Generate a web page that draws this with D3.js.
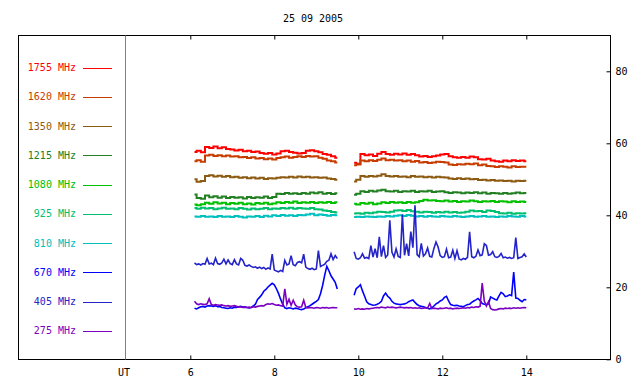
<!DOCTYPE html>
<html><head><meta charset="utf-8">
<script src="https://cdn.jsdelivr.net/npm/d3@7"></script>
<style>
html,body{margin:0;padding:0;background:#fff;}
svg{display:block;}
text{font-family:"DejaVu Sans Mono",monospace;font-size:10px;}
</style></head><body>
<svg id="chart" width="640" height="384"></svg>
<script>
// ---------- DATA ----------
const title = "25 09 2005";
const xLabel = "UT";
const freqLabels = ["1755 MHz","1620 MHz","1350 MHz","1215 MHz","1080 MHz","925 MHz","810 MHz","670 MHz","405 MHz","275 MHz"];
const xTicks = [6,8,10,12,14];
const yTicks = [0,20,40,60,80];

// time grids (UT hours)
const timesA = [6.1,6.2,6.3,6.4,6.5,6.6,6.7,6.8,6.9,7.0,7.1,7.2,7.3,7.4,7.5,7.6,7.7,7.8,7.9,8.0,8.1,8.2,8.3,8.4,8.5,8.6,8.7,8.8,8.9,9.0,9.1,9.2,9.3,9.4,9.5];
const timesB = [9.9,10.0,10.1,10.2,10.3,10.4,10.5,10.6,10.7,10.8,10.9,11.0,11.1,11.2,11.3,11.4,11.5,11.6,11.7,11.8,11.9,12.0,12.1,12.2,12.3,12.4,12.5,12.6,12.7,12.8,12.9,13.0,13.1,13.2,13.3,13.4,13.5,13.6,13.7,13.8,13.9,14.0];
const timesFineA = [6.1,6.15,6.2,6.25,6.3,6.35,6.4,6.45,6.5,6.55,6.6,6.65,6.7,6.75,6.8,6.85,6.9,6.95,7,7.05,7.1,7.15,7.2,7.25,7.3,7.35,7.4,7.45,7.5,7.55,7.6,7.65,7.7,7.75,7.8,7.85,7.9,7.95,8,8.05,8.1,8.15,8.2,8.25,8.3,8.35,8.4,8.45,8.5,8.55,8.6,8.65,8.7,8.75,8.8,8.85,8.9,8.95,9,9.05,9.1,9.15,9.2,9.25,9.3,9.35,9.4,9.45,9.5];
const timesFineB = [9.9,9.95,10,10.05,10.1,10.15,10.2,10.25,10.3,10.35,10.4,10.45,10.5,10.55,10.6,10.65,10.7,10.75,10.8,10.85,10.9,10.95,11,11.05,11.1,11.15,11.2,11.25,11.3,11.35,11.4,11.45,11.5,11.55,11.6,11.65,11.7,11.75,11.8,11.85,11.9,11.95,12,12.05,12.1,12.15,12.2,12.25,12.3,12.35,12.4,12.45,12.5,12.55,12.6,12.65,12.7,12.75,12.8,12.85,12.9,12.95,13,13.05,13.1,13.15,13.2,13.25,13.3,13.35,13.4,13.45,13.5,13.55,13.6,13.65,13.7,13.75,13.8,13.85,13.9,13.95,14];

// flux values per frequency, two observing segments each
const f1755A = [57.6,57.9,57.5,59.0,58.7,59.1,58.6,58.9,58.4,58.3,58.0,58.2,57.8,57.9,57.6,57.7,57.3,57.1,57.3,56.9,57.2,57.8,57.9,57.6,57.4,57.2,57.3,57.9,58.1,57.8,57.5,57.0,56.8,56.4,56.0];
const f1755B = [54.6,54.3,57.0,56.7,56.9,56.5,57.1,57.6,57.0,56.8,57.1,56.9,57.2,56.8,57.0,56.7,56.3,56.5,56.2,56.4,56.6,56.9,57.0,56.4,56.1,56.0,56.2,56.0,56.3,56.1,55.6,55.5,55.7,55.2,55.0,54.9,55.2,55.0,55.3,55.1,55.2,55.0];
const f1620A = [55.0,55.3,54.9,56.6,56.8,56.5,56.7,56.4,56.6,56.3,56.4,56.1,56.2,55.9,56.1,55.8,55.9,55.6,55.8,55.5,55.9,56.1,56.3,56.0,56.2,56.4,56.2,56.5,56.3,56.4,56.0,55.7,55.2,55.0,54.7];
const f1620B = [53.9,54.1,55.2,55.0,55.3,55.1,55.4,55.8,55.3,55.4,55.2,55.3,55.0,55.2,54.9,55.1,54.7,54.8,54.5,54.7,54.9,54.8,54.7,54.1,54.0,54.2,54.1,54.3,54.2,54.4,53.9,54.1,53.7,53.6,53.4,53.6,53.5,53.3,53.6,53.4,53.5,53.5];
const f1350A = [50.0,49.3,49.5,50.9,51.1,50.8,51.0,50.7,50.9,50.6,50.7,50.4,50.6,50.3,50.5,50.2,50.4,50.1,50.3,50.2,50.4,50.6,50.5,50.7,50.5,50.8,50.6,50.7,50.5,50.6,50.4,50.5,50.2,50.1,49.9];
const f1350B = [49.4,49.9,50.9,50.7,50.9,50.8,51.0,51.4,50.9,50.8,50.9,50.7,50.8,50.6,50.9,50.7,50.8,50.6,50.7,50.5,50.7,50.6,50.5,50.2,50.1,50.3,50.1,50.2,50.0,50.1,49.8,49.9,49.7,49.8,49.6,49.7,49.5,49.6,49.4,49.6,49.5,49.6];
const f1215A = [45.8,44.8,44.6,45.5,45.0,45.3,44.9,45.2,44.8,45.1,44.9,45.0,44.7,45.1,44.8,45.0,44.9,45.2,44.8,45.1,46.0,45.9,46.2,46.0,46.1,45.9,46.2,46.0,46.3,46.1,46.4,46.0,46.2,45.9,46.1];
const f1215B = [45.7,46.0,46.7,46.5,46.8,46.6,46.9,47.1,46.7,46.6,46.8,46.5,46.7,46.6,46.8,46.5,46.7,46.6,46.8,46.5,46.6,46.7,46.4,46.2,46.4,46.3,46.1,46.3,46.2,46.4,46.1,46.3,46.0,46.2,46.1,46.0,46.2,46.0,46.1,46.3,46.1,46.2];
const f1080A = [43.0,42.8,43.1,43.5,43.2,43.6,43.3,43.5,43.1,43.4,43.2,43.5,43.1,43.3,43.0,43.4,43.2,43.5,43.1,43.3,43.6,43.4,43.7,43.5,43.8,43.4,43.6,43.5,43.7,43.4,43.6,43.5,43.7,43.4,43.6];
const f1080B = [43.2,43.0,43.4,43.2,43.5,43.1,43.3,43.6,43.4,43.7,43.5,43.6,43.4,43.7,43.5,43.6,44.0,44.3,44.1,44.2,44.0,43.9,44.1,43.8,44.0,43.7,43.9,43.8,44.1,43.9,43.7,43.9,43.8,44.0,43.7,43.9,43.8,43.6,43.9,43.7,43.8,43.7];
const f925A = [42.0,41.8,42.1,41.9,42.0,41.7,41.9,42.1,41.8,41.9,41.7,42.0,41.8,41.6,41.9,41.7,41.8,42.0,41.7,41.9,41.8,42.0,41.9,42.1,41.8,42.0,41.9,41.8,42.0,41.7,41.6,41.3,41.2,40.9,40.8];
const f925B = [40.5,40.6,40.4,40.7,40.6,40.8,41.0,40.9,40.8,41.0,41.3,41.4,41.2,41.5,41.1,41.0,40.8,41.0,40.9,40.7,40.9,40.8,41.0,40.8,40.9,40.7,40.8,41.0,41.3,41.1,41.2,40.9,41.3,41.2,40.9,40.6,40.5,40.7,40.4,40.6,40.5,40.6];
const f810A = [39.7,39.6,39.8,39.6,39.7,39.5,39.8,39.6,39.7,39.5,39.8,39.6,39.4,39.7,39.6,39.8,39.5,39.9,39.7,40.0,39.8,40.1,39.9,40.0,39.8,40.1,40.0,40.2,40.4,40.0,40.2,40.1,39.9,40.1,40.0];
const f810B = [39.5,39.6,39.5,39.7,39.6,39.5,39.7,39.6,39.8,39.7,39.9,40.0,39.8,40.1,39.9,39.7,39.8,39.6,39.8,39.7,39.6,39.8,39.7,39.6,39.8,39.7,39.5,39.7,39.8,39.6,39.7,39.8,39.6,39.7,39.5,39.7,39.6,39.8,39.7,39.6,39.8,39.7];
const f670A = [14.2,14.0,14.3,14.6,14.7,14.5,14.8,14.9,14.8,14.7,14.9,14.6,14.7,14.4,14.3,14.2,14.1,14.3,14.2,14.5,14.4,14.6,14.7,14.5,14.6,14.4,14.3,14.4,14.8,15.3,16.6,17.2,17.9,18.9,19.4,20.1,20.6,21.1,20.7,19.6,18.3,16.7,15.3,14.3,14.1,14.3,14.2,14.0,14.2,14.1,13.9,13.8,14.0,14.3,14.6,14.9,15.3,15.7,16.1,16.6,18.2,20.5,23.4,25.8,24.6,23.2,22.3,21.4,19.5];
const f670B = [17.8,19.6,20.1,20.7,19.0,17.5,16.0,15.4,15.2,15.0,15.1,15.3,15.6,16.1,17.6,18.4,17.5,17.0,16.1,15.6,15.4,15.3,15.2,15.3,15.4,15.6,16.0,16.3,16.5,15.8,15.2,14.9,14.7,14.6,14.4,14.2,14.0,14.3,14.8,15.4,15.7,16.2,16.5,17.2,17.5,16.2,15.2,15.0,14.9,15.0,14.8,14.7,14.6,14.9,15.2,15.3,15.8,16.2,16.5,16.9,16.3,15.5,15.3,15.2,15.4,17.3,17.0,16.7,16.5,17.6,18.6,18.2,17.4,17.6,17.9,17.7,24.2,17.0,16.9,16.4,16.0,16.6,16.5];
const f405A = [26.8,26.3,26.5,26.2,26.6,26.4,28.0,26.5,26.7,26.3,28.1,26.6,26.4,26.8,27.8,26.5,27.6,26.6,26.3,27.7,26.5,26.2,28.0,27.5,26.1,25.9,26.2,25.8,25.5,25.7,25.3,25.6,25.2,25.5,25.0,25.4,25.1,29.2,24.8,24.5,24.3,24.7,24.4,27.5,26.2,26.5,28.8,26.3,26.0,26.9,27.1,26.8,29.2,25.6,25.2,25.0,25.3,24.9,25.1,30.2,25.8,26.1,26.4,27.2,27.5,29.3,27.7,28.8,28.0];
const f405B = [29.9,28.0,27.8,28.2,29.3,28.1,28.3,28.0,31.6,28.4,30.7,28.2,34.0,28.5,31.6,28.3,29.0,38.6,29.8,28.4,30.7,28.6,28.3,40.2,28.9,32.1,28.7,35.5,31.0,42.8,29.1,28.5,32.2,28.7,29.3,30.9,28.6,28.4,30.8,32.6,31.2,28.8,28.3,28.5,30.6,28.2,28.4,30.3,28.0,30.2,27.9,27.6,28.0,27.8,28.3,35.4,28.5,28.2,28.6,30.4,28.8,29.0,32.1,31.6,28.9,29.1,29.9,28.5,28.3,28.6,29.4,28.2,28.4,28.1,28.3,28.0,28.2,33.8,28.0,28.3,28.5,29.3,28.4];
const f275A = [16.1,15.4,15.2,15.4,15.3,15.2,15.4,16.8,15.2,15.0,15.2,15.1,15.0,15.1,14.9,14.8,14.9,14.7,14.8,14.9,14.7,14.5,14.6,14.4,14.5,14.4,14.5,14.4,14.6,14.5,14.7,14.8,14.9,14.8,15.2,15.4,15.3,15.5,15.2,15.0,15.1,14.9,14.8,19.6,15.3,16.7,15.0,16.4,15.1,14.6,14.5,14.6,16.4,14.4,14.3,14.4,14.3,14.2,14.4,14.3,14.2,14.4,14.3,14.4,14.2,14.3,14.4,14.3,14.3];
const f275B = [14.0,13.9,14.1,13.9,14.0,13.9,14.1,14.0,14.1,14.2,14.3,14.4,14.3,14.5,14.4,14.3,14.5,14.4,14.5,14.4,14.3,14.4,14.5,14.4,14.3,14.4,14.3,14.4,14.2,14.3,14.2,14.3,14.1,14.2,14.3,14.2,15.5,14.1,14.2,14.1,14.0,14.2,14.1,14.2,14.3,14.1,14.2,14.0,14.1,14.2,14.1,14.2,14.3,14.2,14.4,14.3,14.5,14.4,14.6,14.5,14.7,21.2,16.2,14.8,16.0,14.1,13.8,13.7,13.8,14.0,14.1,14.0,14.2,14.1,14.2,14.1,14.3,14.2,14.3,14.2,14.3,14.4,14.3];

// ---------- STYLE ----------
const colors = ["#ff0000","#c83c00","#8c5a10","#228022","#00c000","#00c070","#00c0c0","#0000ff","#2424c8","#7c00c0"];

const series = [
  {label:freqLabels[0], color:colors[0], segs:[[timesA,f1755A],[timesB,f1755B]]},
  {label:freqLabels[1], color:colors[1], segs:[[timesA,f1620A],[timesB,f1620B]]},
  {label:freqLabels[2], color:colors[2], segs:[[timesA,f1350A],[timesB,f1350B]]},
  {label:freqLabels[3], color:colors[3], segs:[[timesA,f1215A],[timesB,f1215B]]},
  {label:freqLabels[4], color:colors[4], segs:[[timesA,f1080A],[timesB,f1080B]]},
  {label:freqLabels[5], color:colors[5], segs:[[timesA,f925A],[timesB,f925B]]},
  {label:freqLabels[6], color:colors[6], segs:[[timesA,f810A],[timesB,f810B]]},
  {label:freqLabels[7], color:colors[7], segs:[[timesFineA,f670A],[timesFineB,f670B]]},
  {label:freqLabels[8], color:colors[8], segs:[[timesFineA,f405A],[timesFineB,f405B]]},
  {label:freqLabels[9], color:colors[9], segs:[[timesFineA,f275A],[timesFineB,f275B]]}
];
const drawOrder = [0,1,2,3,4,5,6,7,9,8];

const svg = d3.select("#chart");
const frame = {left:18.5, top:35.5, right:610.5, bottom:359.5, sep:125.5};

const x = d3.scaleLinear().domain([6,14]).range([190.3,526.3]);
const y = d3.scaleLinear().domain([0,90]).range([359.3,35.3]);

// title
svg.append("text").attr("x",313).attr("y",18).attr("text-anchor","middle")
  .attr("dy","0.35em").attr("fill","#000").text(title);

// frame
svg.append("rect").attr("x",frame.left).attr("y",frame.top)
  .attr("width",frame.right-frame.left).attr("height",frame.bottom-frame.top)
  .attr("fill","none").attr("stroke","#000").attr("stroke-width",1);
svg.append("line").attr("x1",frame.sep).attr("x2",frame.sep)
  .attr("y1",frame.top).attr("y2",frame.bottom)
  .attr("stroke","#808080").attr("stroke-width",1);

// axes
const gB = svg.append("g").attr("transform",`translate(0,${frame.bottom})`)
  .call(d3.axisBottom(x).tickValues(xTicks).tickSize(-4).tickPadding(9).tickFormat(d3.format("d")));
const gT = svg.append("g").attr("transform",`translate(0,${frame.top})`)
  .call(d3.axisTop(x).tickValues(xTicks).tickSize(-4).tickFormat(""));
const gR = svg.append("g").attr("transform",`translate(${frame.right},0)`)
  .call(d3.axisRight(y).tickValues(yTicks).tickSize(-4).tickPadding(5).tickFormat(d3.format("d")));
[gB,gT,gR].forEach(g=>{
  g.select(".domain").remove();
  g.selectAll("text").attr("font-family",'"DejaVu Sans Mono",monospace').attr("font-size",10).attr("fill","#000");
  g.selectAll(".tick line").attr("stroke","#000");
});

svg.append("text").attr("x",124).attr("y",372).attr("text-anchor","middle")
  .attr("dy","0.35em").attr("fill","#000").text(xLabel);

// data lines: coarse series drawn as steps, fine (spiky) series drawn linearly
const stepLine = d3.line().curve(d3.curveStep).x(d=>x(d[0])).y(d=>y(d[1]));
const linLine = d3.line().x(d=>x(d[0])).y(d=>y(d[1]));
const gL = svg.append("g");
drawOrder.forEach(i=>{
  const s = series[i];
  s.segs.forEach(([ts,vs])=>{
    const n = Math.min(ts.length, vs.length);
    if (ts.length!==vs.length) console.warn("length mismatch", s.label, ts.length, vs.length);
    const pts = d3.range(n).map(k=>[ts[k],vs[k]]);
    gL.append("path").datum(pts).attr("d", i<7 ? stepLine : linLine)
      .attr("fill","none").attr("stroke",s.color)
      .attr("stroke-width", i<7 ? 2 : 1.6).attr("stroke-linejoin","miter");
  });
});

// legend
series.forEach((s,i)=>{
  const ly = 67.5 + i*29.25;
  svg.append("text").attr("x",76).attr("y",ly).attr("dy","0.35em")
    .attr("text-anchor","end").attr("fill",s.color).text(s.label);
  svg.append("line").attr("x1",83).attr("x2",112)
    .attr("y1",Math.round(ly)+0.5).attr("y2",Math.round(ly)+0.5)
    .attr("stroke",s.color).attr("stroke-width",1);
});
</script>
</body></html>
